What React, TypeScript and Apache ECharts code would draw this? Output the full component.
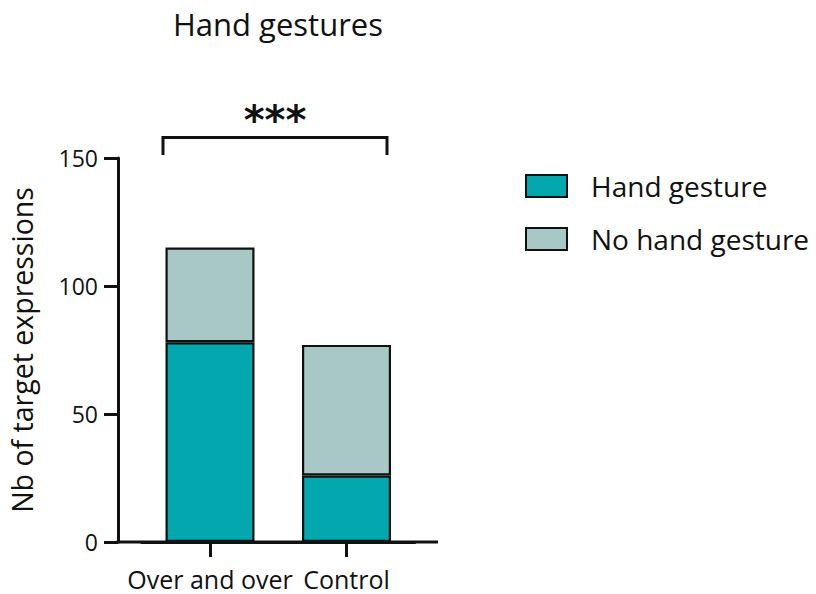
import React, { useEffect, useRef } from "react";
import * as echarts from "echarts";

const categories = ["Over and over", "Control"];
const handGesture = [78, 26];
const noHandGesture = [37, 51];
const seriesNames = ["Hand gesture", "No hand gesture"];
const yTicks = { min: 0, max: 150, interval: 50 };
const titleText = "Hand gestures";
const yName = "Nb of target expressions";
const signif = "***";

const FONT = "Open Sans";

export default function App() {
  const ref = useRef<HTMLDivElement>(null);
  useEffect(() => {
    if (!ref.current) return;
    const chart = echarts.init(ref.current, null, { renderer: "svg" });
    const border = { borderColor: "#111", borderWidth: 2.2 };
    chart.setOption({
      animation: false,
      backgroundColor: "#fff",
      textStyle: { fontFamily: FONT },
      title: {
        text: titleText,
        left: 273,
        textAlign: "center",
        top: 3,
        textStyle: { fontFamily: FONT, fontSize: 31, fontWeight: "normal", color: "#111" },
      },
      legend: {
        orient: "vertical",
        left: 525,
        top: 172,
        padding: 0,
        itemWidth: 41,
        itemHeight: 22,
        itemGap: 25,
        icon: "rect",
        data: seriesNames,
        textStyle: { fontFamily: FONT, fontSize: 28, color: "#111", padding: [0, 0, 0, 19] },
      },
      grid: { left: 141.75, width: 273, top: 158, height: 384 },
      xAxis: {
        type: "category",
        data: categories,
        boundaryGap: true,
        axisLine: { show: true, lineStyle: { color: "#111", width: 3 } },
        axisTick: { show: true, alignWithLabel: true, length: 15, lineStyle: { color: "#111", width: 3 } },
        axisLabel: {
          fontFamily: FONT,
          fontSize: 25,
          color: "#111",
          margin: 24,
          interval: 0,
          hideOverlap: false,
        },
      },
      yAxis: {
        type: "value",
        min: yTicks.min,
        max: yTicks.max,
        interval: yTicks.interval,
        offset: 23.75,
        name: yName,
        nameLocation: "middle",
        nameRotate: 90,
        nameGap: 82,
        nameTextStyle: { fontFamily: FONT, fontSize: 28.5, color: "#111" },
        axisLine: { show: true, lineStyle: { color: "#111", width: 3 } },
        axisTick: { show: true, length: 14, lineStyle: { color: "#111", width: 3 } },
        axisLabel: { fontFamily: FONT, fontSize: 23, color: "#111", margin: 20 },
        splitLine: { show: false },
      },
      series: [
        {
          name: seriesNames[0],
          type: "bar",
          stack: "total",
          barWidth: 89,
          data: handGesture,
          itemStyle: { color: "#03A7AE", ...border },
        },
        {
          name: seriesNames[1],
          type: "bar",
          stack: "total",
          barWidth: 89,
          data: noHandGesture,
          itemStyle: { color: "#A8C8C6", ...border },
        },
      ],
      graphic: [
        {
          type: "line",
          shape: { x1: 116.5, y1: 542, x2: 438, y2: 542 },
          style: { stroke: "#111", lineWidth: 3 },
        },
        {
          type: "polyline",
          shape: { points: [[163, 155], [163, 137.5], [387, 137.5], [387, 155]] },
          style: { stroke: "#111", lineWidth: 3, fill: "none" },
        },
        {
          type: "text",
          x: 275,
          y: 120,
          style: {
            text: signif,
            fontFamily: "DejaVu Sans",
            fontSize: 40,
            fontWeight: "bold",
            fill: "#111",
            textAlign: "center",
            textVerticalAlign: "middle",
          },
        },
      ],
    });
    return () => chart.dispose();
  }, []);
  return (
    <div
      ref={ref}
      style={{ position: "absolute", left: 0, top: 0, width: 816, height: 594 }}
    />
  );
}
